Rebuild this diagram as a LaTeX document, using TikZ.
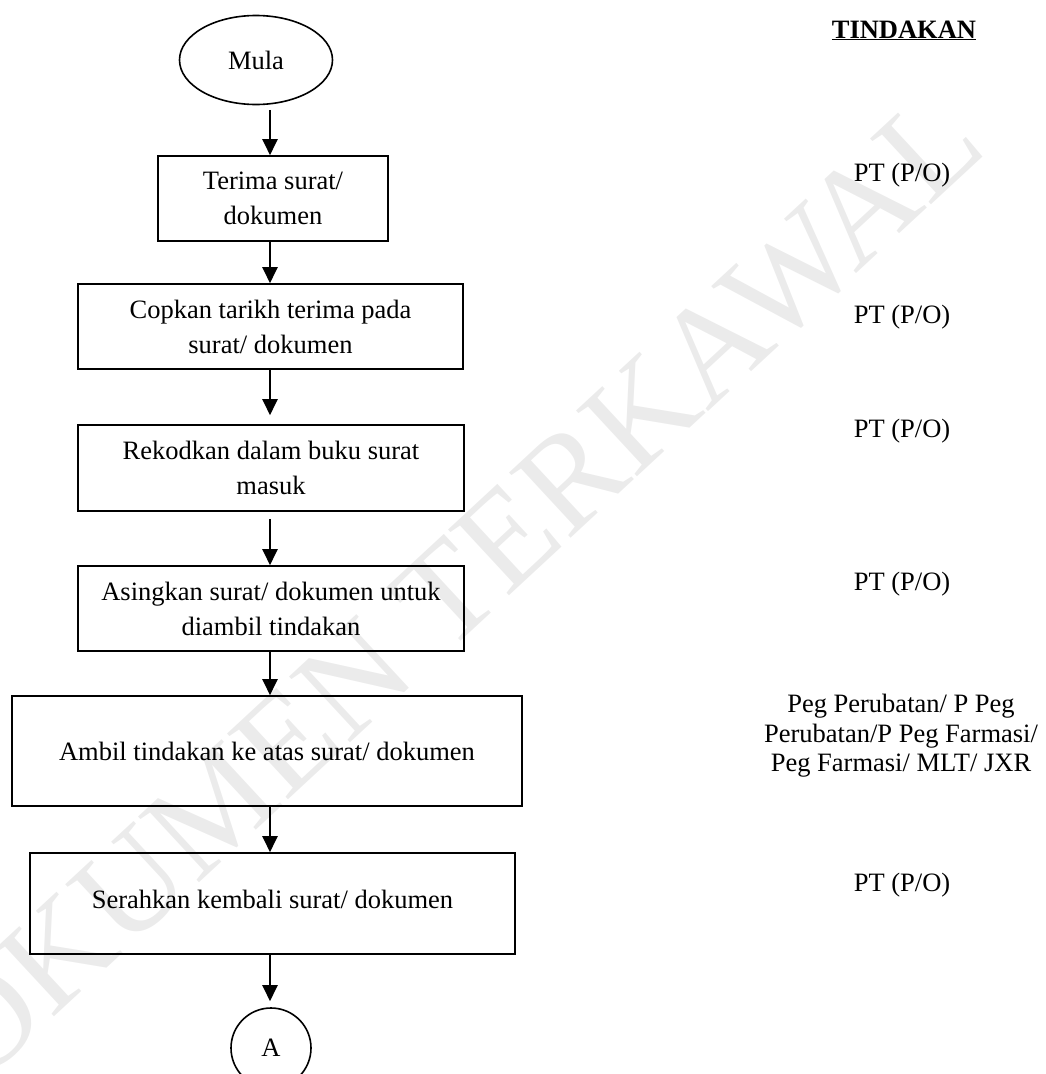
\documentclass[tikz,border=0pt]{standalone}
\usepackage{fontspec}
\setmainfont{Liberation Serif}
\usetikzlibrary{arrows.meta,shapes.geometric}
\begin{document}
\begin{tikzpicture}[x=1pt,y=-1pt,
  txt/.style={font=\fontsize{26.5}{35}\selectfont},
  box/.style={draw, line width=1.6pt, align=center, inner sep=0pt, txt},
  term/.style={draw, ellipse, line width=1.6pt, inner sep=0pt, txt},
  conn/.style={draw, circle, line width=1.6pt, inner sep=0pt, minimum size=80pt, txt},
  lab/.style={align=center, inner sep=0pt, font=\fontsize{26.5}{29.5}\selectfont},
  arr/.style={line width=2.2pt, -{Triangle[width=15pt,length=16pt]}},
  wm/.style={inner sep=0pt, text=black!8, rotate=42.8, font=\fontsize{137}{137}\selectfont}]
\useasboundingbox (0,0) rectangle (1045,1074);
% watermark
\node[wm] (wm) at (418,620) {DOKUMEN TERKAWAL};
% flow
\node[term, minimum width=153pt, minimum height=89pt] (mula) at (256,60) {Mula};
\node[box, minimum width=230pt, minimum height=85pt] (b1) at (273,198.5) {Terima surat/\\dokumen};
\node[box, minimum width=385pt, minimum height=85pt] (b2) at (270.5,326.5) {Copkan tarikh terima pada\\surat/ dokumen};
\node[box, minimum width=386pt, minimum height=86pt] (b3) at (271,468) {Rekodkan dalam buku surat\\masuk};
\node[box, minimum width=386pt, minimum height=85pt] (b4) at (271,608.5) {Asingkan surat/ dokumen untuk\\diambil tindakan};
\node[box, minimum width=510pt, minimum height=110pt] (b5) at (267,751) {Ambil tindakan ke atas surat/ dokumen};
\node[box, minimum width=485pt, minimum height=101pt] (b6) at (272.5,903.5) {\raisebox{9pt}{Serahkan kembali surat/ dokumen}};
\node[conn] (A) at (271,1048) {A};
\coordinate (ax) at (270,0);
\draw[arr, shorten <=4.5pt] (mula.south -| ax) -- (b1.north -| ax);
\draw[arr] (b1.south -| ax) -- (b2.north -| ax);
\draw[arr, shorten >=9pt] (b2.south -| ax) -- (b3.north -| ax);
\draw[arr, shorten <=7pt] (b3.south -| ax) -- (b4.north -| ax);
\draw[arr] (b4.south -| ax) -- (b5.north -| ax);
\draw[arr] (b5.south -| ax) -- (b6.north -| ax);
\draw[arr, shorten >=6pt] (b6.south -| ax) -- (A.north -| ax);
% actions column
\node[lab, font=\fontsize{26.5}{29.5}\selectfont\bfseries] (hd) at (904,30.5) {\underline{TINDAKAN}};
\node[lab] (t1) at (902,175) {PT (P/O)};
\node[lab] (t2) at (902,317) {PT (P/O)};
\node[lab] (t3) at (902,431) {PT (P/O)};
\node[lab] (t4) at (902,584) {PT (P/O)};
\node[lab] (t5) at (901,736) {Peg Perubatan/ P Peg\\Perubatan/P Peg Farmasi/\\Peg Farmasi/ MLT/ JXR};
\node[lab] (t6) at (902,885) {PT (P/O)};
\end{tikzpicture}
\end{document}
